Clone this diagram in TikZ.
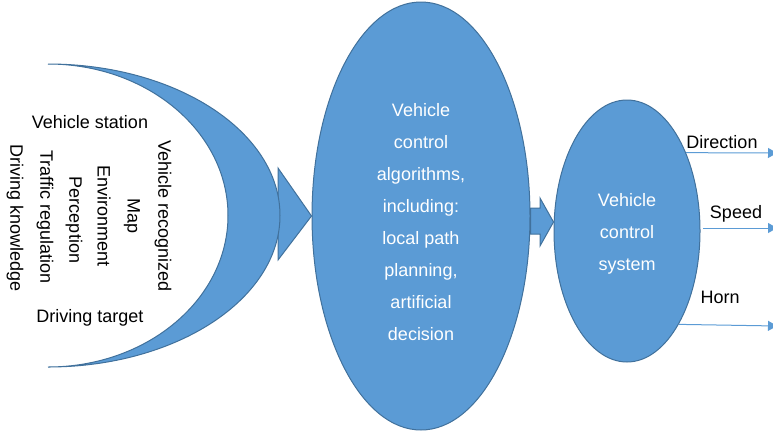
\documentclass[tikz,border=0pt]{standalone}
\usepackage{fontspec}
\setmainfont{Liberation Sans}
\usetikzlibrary{shapes.geometric, arrows.meta, positioning}
\definecolor{bluefill}{HTML}{5B9BD5}
\definecolor{blueline}{HTML}{41719C}
\tikzset{
  blob/.style={ellipse, draw=blueline, fill=bluefill, line width=1pt, inner sep=0pt},
  inner/.style={text=white, align=center},
  outarrow/.style={draw=bluefill, line width=1pt, -{Triangle[width=10pt,length=9pt]}}
}
\begin{document}
\begin{tikzpicture}[x=1pt, y=-1pt, font=\fontsize{18}{32}\selectfont]
  \useasboundingbox (0,0) rectangle (773,432);

  % input crescent and its arrow
  \node[blob, minimum width=218pt, minimum height=428pt] (algo) at (421,216) {};
  \node[inner] (algotext) at (421,222)
    {Vehicle\\control\\algorithms,\\including:\\local path\\planning,\\artificial\\decision};
  \filldraw[fill=bluefill, draw=blueline, line width=1pt] (278,168) -- (algo.west) -- (278,260) -- cycle;
  \filldraw[fill=bluefill, draw=blueline, line width=1pt] (48,64)
    arc[start angle=-90, end angle=90, x radius=232, y radius=151.5]
    arc[start angle=90, end angle=-90, x radius=180, y radius=151.5] -- cycle;

  \node (station) at (90,122) {Vehicle station};
  \node (target) at (90,318) {Driving target};
  \foreach \x/\y/\t [count=\i] in {15/218/Driving knowledge, 45/217/Traffic regulation,
      74/220/Perception, 104/216/Environment, 132/216/Map, 163/216/Vehicle recognized}
    \node[rotate=-90] (col\i) at (\x,\y) {\t};

  % control system
  \node[blob, minimum width=146pt, minimum height=262pt] (ctrl) at (627,231) {};
  \node[inner] (ctrltext) at (627,234) {Vehicle\\control\\system};
  \filldraw[fill=bluefill, draw=blueline, line width=1pt] (algo.east |- 0,208) -- (540,208) -- (540,198)
    -- (ctrl.west |- 0,222) -- (540,246) -- (540,234) -- (algo.east |- 0,234) -- cycle;

  % outputs
  \coordinate (dir) at (777,153);
  \coordinate (spd) at (777,228);
  \coordinate (hrn) at (777,326);
  \draw[outarrow] (ctrl.53) -- (dir);
  \draw[outarrow] (703,228) -- (spd);
  \draw[outarrow] (ctrl.-61) -- (hrn);
  \node (direction) at (722,142) {Direction};
  \node (speed) at (736,214) {Speed};
  \node (horn) at (720,297) {Horn};
\end{tikzpicture}
\end{document}
